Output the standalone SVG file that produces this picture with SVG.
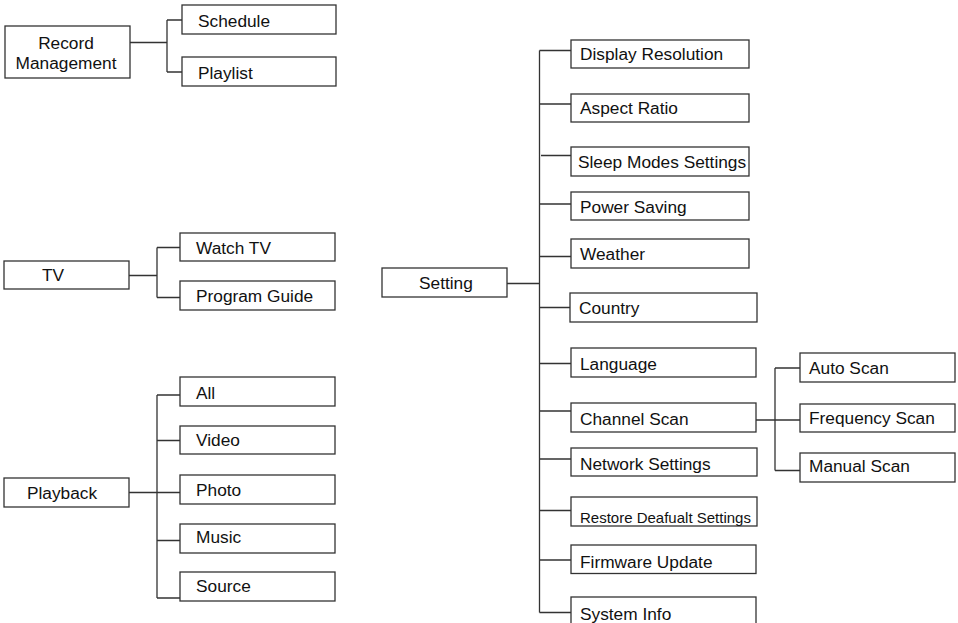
<svg xmlns="http://www.w3.org/2000/svg" width="958" height="623" viewBox="0 0 958 623">
<style>
rect{fill:#fff;stroke:#333;stroke-width:1.3}
text{font-family:"Liberation Sans",Arial,sans-serif;font-size:17.3px;fill:#111}
.sm{font-size:15px}
#connectors path{fill:none;stroke:#333;stroke-width:1.3}
</style>
<rect x="0" y="0" width="958" height="623" style="fill:#fff;stroke:none"/>
<g id="connectors">
<path d="M130 42.5H167M167 20V72M167 20H182M167 72H182"/>
<path d="M129 275.5H157M157 247.5V297.5M157 247.5H180M157 297.5H180"/>
<path d="M129 492.5H157M157 395V598M157 395H180M157 440.5H180M157 492.5H180M157 540.5H180M157 598H180"/>
<path d="M507 283.5H539.5M539.5 50.5V612.5M539.5 50.5H571M539.5 104H571M541 155.5H571M539.5 204H571M539.5 256.5H571M539.5 307.5H570M539.5 363.5H571M539.5 411H571M539.5 459H571M539.5 510.5H571M539.5 560H571M539.5 612.5H571"/>
<path d="M756 420H775M775 368V470.5M775 368H800M775 420H800M775 470.5H800"/>
</g>
<g id="record"><rect x="5" y="26" width="125" height="52"/><text x="66" y="48.5" text-anchor="middle">Record</text><text x="66" y="68.5" text-anchor="middle">Management</text></g>
<g id="schedule"><rect x="182" y="5" width="154" height="29"/><text x="198" y="27">Schedule</text></g>
<g id="playlist"><rect x="182" y="57" width="154" height="29"/><text x="198" y="79">Playlist</text></g>
<g id="tv"><rect x="4" y="261" width="125" height="28"/><text x="42" y="281">TV</text></g>
<g id="watchtv"><rect x="180" y="233" width="155" height="28"/><text x="196" y="253.5">Watch TV</text></g>
<g id="programguide"><rect x="180" y="281" width="155" height="29"/><text x="196" y="302">Program Guide</text></g>
<g id="playback"><rect x="4" y="478" width="125" height="29"/><text x="27" y="498.5">Playback</text></g>
<g id="all"><rect x="180" y="377" width="155" height="29"/><text x="196" y="398.5">All</text></g>
<g id="video"><rect x="180" y="426" width="155" height="28"/><text x="196" y="446">Video</text></g>
<g id="photo"><rect x="180" y="475" width="155" height="29"/><text x="196" y="495.5">Photo</text></g>
<g id="music"><rect x="180" y="524" width="155" height="29"/><text x="196" y="543">Music</text></g>
<g id="source"><rect x="180" y="572" width="155" height="29"/><text x="196" y="592">Source</text></g>
<g id="setting"><rect x="382" y="268" width="125" height="29"/><text x="419" y="288.5">Setting</text></g>
<g id="displayresolution"><rect x="571" y="40" width="178" height="28"/><text x="580" y="60">Display Resolution</text></g>
<g id="aspectratio"><rect x="571" y="94" width="178" height="28"/><text x="580" y="113.5">Aspect Ratio</text></g>
<g id="sleepmodes"><rect x="571" y="147" width="178" height="29"/><text x="578" y="167.5">Sleep Modes Settings</text></g>
<g id="powersaving"><rect x="571" y="192" width="178" height="28"/><text x="580" y="213">Power Saving</text></g>
<g id="weather"><rect x="571" y="239" width="178" height="29"/><text x="580" y="260">Weather</text></g>
<g id="country"><rect x="570" y="293" width="187" height="29"/><text x="579" y="314">Country</text></g>
<g id="language"><rect x="571" y="348" width="185" height="29"/><text x="580" y="369.5">Language</text></g>
<g id="channelscan"><rect x="571" y="403" width="185" height="29"/><text x="580" y="425">Channel Scan</text></g>
<g id="networksettings"><rect x="571" y="448" width="186" height="28"/><text x="580" y="470">Network Settings</text></g>
<g id="restore"><rect x="571" y="497" width="186" height="29"/><text class="sm" x="580" y="523">Restore Deafualt Settings</text></g>
<g id="firmware"><rect x="571" y="545" width="185" height="28.5"/><text x="580" y="567.5">Firmware Update</text></g>
<g id="systeminfo"><rect x="571" y="597" width="185" height="30"/><text x="580" y="619.5">System Info</text></g>
<g id="autoscan"><rect x="800" y="353" width="155" height="29"/><text x="809" y="373.5">Auto Scan</text></g>
<g id="frequencyscan"><rect x="800" y="404" width="155" height="28"/><text x="809" y="423.5">Frequency Scan</text></g>
<g id="manualscan"><rect x="800" y="453" width="155" height="29"/><text x="809" y="472">Manual Scan</text></g>
</svg>
